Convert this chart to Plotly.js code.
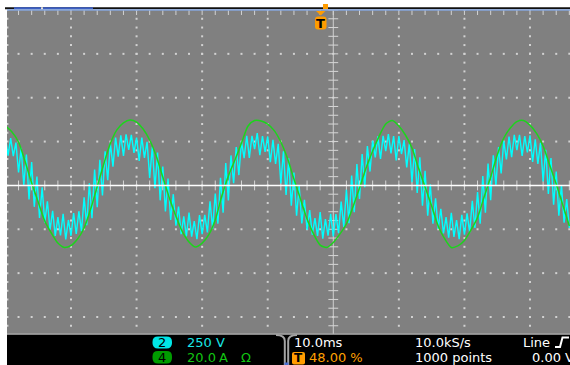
<!DOCTYPE html>
<html><head><meta charset="utf-8">
<script src="https://cdn.plot.ly/plotly-3.0.1.min.js"></script>
<style>html,body{margin:0;padding:0;background:#fff;overflow:hidden}#chart{width:570px;height:365px}</style>
</head><body><div id="chart"></div>
<script>
// ---- scope readout ----
const ch2Label = "250 V";
const ch4Value = "20.0", ch4Unit = "A", ch4Imp = "Ω";
const timebaseLabel = "10.0ms";
const triggerPosLabel = "48.00 %";
const sampleRateLabel = "10.0kS/s";
const recordLabel = "1000 points";
const trigSourceLabel = "Line";
const trigLevelLabel = "0.00 V";

const voltsPerDiv = 250, ampsPerDiv = 20, msPerDiv = 10;
const triggerTime = 48; // ms from left graticule edge

// ---- Ch4 current (A), one reading per ms from left graticule edge ----
const ch4Step = 1.0;
const ch4Amps = [27.1, 24.4, 19.8, 10.9, 1.1, -7.6, -16.2, -21.7, -26.3, -28.3,
 -27.4, -24.4, -19.4, -10.8, -0.5, 9.8, 19.1, 25.3, 28.5, 29.8,
 28.9, 25.7, 20.7, 13.4, 3.8, -5.7, -14.0, -21.2, -25.8, -28.1,
 -26.3, -22.6, -15.8, -4.8, 4.3, 11.6, 19.3, 27.1, 29.6, 29.4,
 28.0, 25.0, 19.8, 12.5, 2.9, -6.2, -15.3, -22.2, -27.2, -28.3,
 -26.0, -22.2, -17.6, -9.8, -1.2, 7.9, 15.7, 22.5, 28.0, 29.6,
 27.1, 23.0, 17.1, 7.9, -0.7, -9.4, -18.5, -24.4, -28.3, -27.6,
 -25.1, -20.3, -14.6, -5.3, 3.8, 13.9, 21.6, 26.2, 29.1, 29.6,
 27.5, 23.7, 18.0, 9.3, 0.6, -8.9, -18.5];

// ---- Ch2 voltage (V), one reading per 0.4 ms ----
const ch2Step = 0.4;
const ch2Volts = [280, 169, 270, 167, 244, 74, 215, 2, 176, -80,
 133, -122, 51, -185, -11, -213, -90, -253, -145, -288,
 -181, -285, -162, -308, -197, -287, -158, -277, -147, -261,
 -68, -227, 12, -187, 90, -124, 146, -57, 194, 30,
 241, 107, 273, 164, 286, 168, 291, 203,
 288, 186, 273, 140, 273, 157, 249, 42, 220, -16,
 187, -85, 108, -149, 39, -197, -50, -230, -121, -278,
 -176, -290, -155, -292, -203, -307, -169, -278, -168, -268,
 -90, -248, -47, -218, 43, -155, 127, -86, 171, 13,
 219, 59, 251, 156, 282, 157, 283, 207, 298,
 172, 281, 191, 279, 132, 260, 123, 237, 11, 195,
 -55, 154, -116, 73, -173, -4, -217, -82, -253, -141,
 -281, -187, -288, -152, -303, -192, -286, -162, -291, -163,
 -272, -92, -236, -25, -215, 56, -153, 122, -77, 179,
 -10, 224, 79, 255, 160, 280, 151, 283, 196, 293,
 183, 281, 143, 281, 179, 258, 103, 238, 18, 208,
 -43, 161, -115, 84, -172, 7, -218, -73, -248, -133,
 -274, -181, -298, -156, -293, -198, -306, -168, -281, -159,
 -268, -88, -243, -38, -218, 53, -156, 125, -84, 172,
 -2, 218, 68, 253, 148, 279, 161, 288, 201, 288,
 168, 281, 188, 286, 134, 263, 123, 243, 23, 203,
 -48, 156, -110, 79, -172, 2, -213, -78, -243];

const ch4Time = ch4Amps.map((_, i) => i * ch4Step);
const ch2Time = ch2Volts.map((_, i) => i * ch2Step);

// ---- screen geometry ----
const W = 570, H = 365, ML = 7, MR = 0, MT = 10, MB = 31;
const PW = W - ML - MR, PH = H - MT - MB;
const divTop = 4, divBot = -3.388;
const xRange = [0.24, 86.1];
const px = x => (x - ML) / PW, py = y => (H - MB - y) / PH;

// graticule dots & ticks
const gx = [], gy = [];
for (let d = 1; d <= 8; d++) { if (d === 5) continue;
  for (let k = -16; k <= 20; k++) { gx.push(d * msPerDiv); gy.push(k * voltsPerDiv / 5); } }
for (let r = -3; r <= 3; r++) { if (r === 0) continue;
  for (let k = 0; k <= 43; k++) { gx.push(k * msPerDiv / 5); gy.push(r * voltsPerDiv); } }
const lx = [], ly = [];
for (let k = -16; k <= 20; k++) { lx.push(0.3); ly.push(k * voltsPerDiv / 5); }
const tx = [], ty = [];
for (let k = 1; k <= 43; k++) { tx.push(k * msPerDiv / 5); ty.push(3.95 * voltsPerDiv); }
const cvx = [], cvy = [];
for (let k = -16; k <= 20; k++) { cvx.push(5 * msPerDiv); cvy.push(k * voltsPerDiv / 5); }
const chx = [], chy = [];
for (let k = 0; k <= 43; k++) { chx.push(k * msPerDiv / 5); chy.push(0); }

const dotColor = '#d2d2d2';
const traces = [
  {x: gx, y: gy, type: 'scatter', mode: 'markers', hoverinfo: 'skip',
   marker: {symbol: 'square', size: 2, color: dotColor, line: {width: 0}}},
  {x: lx, y: ly, type: 'scatter', mode: 'markers', hoverinfo: 'skip',
   marker: {symbol: 'square', size: 2, color: dotColor, line: {width: 0}}},
  {x: tx, y: ty, type: 'scatter', mode: 'markers', hoverinfo: 'skip',
   marker: {symbol: 'line-ns', size: 4, line: {width: 1, color: dotColor}}},
  {x: cvx, y: cvy, type: 'scatter', mode: 'markers', hoverinfo: 'skip',
   marker: {symbol: 'line-ew', size: 7, line: {width: 1, color: '#d6d6d6'}}},
  {x: chx, y: chy, type: 'scatter', mode: 'markers', hoverinfo: 'skip',
   marker: {symbol: 'line-ns', size: 7, line: {width: 1, color: '#d6d6d6'}}},
  {x: ch2Time, y: ch2Volts, type: 'scatter', mode: 'lines', name: 'Ch2',
   line: {color: '#00ffff', width: 1.4}},
  {x: ch4Time, y: ch4Amps, type: 'scatter', mode: 'lines', name: 'Ch4', yaxis: 'y2',
   line: {color: '#1cd41c', width: 1.5, shape: 'spline', smoothing: 0.7}}
];

function pill(x0, y0, x1, y1, r, color) {
  const p = (x, y) => px(x).toFixed(5) + ',' + py(y).toFixed(5);
  const path = `M${p(x0 + r, y0)} L${p(x1 - r, y0)} Q${p(x1, y0)} ${p(x1, y0 + r)} L${p(x1, y1 - r)} Q${p(x1, y1)} ${p(x1 - r, y1)} L${p(x0 + r, y1)} Q${p(x0, y1)} ${p(x0, y1 - r)} L${p(x0, y0 + r)} Q${p(x0, y0)} ${p(x0 + r, y0)} Z`;
  return {type: 'path', xref: 'paper', yref: 'paper', path, fillcolor: color, line: {width: 0}, layer: 'above'};
}
function rect(x0, y0, x1, y1, color) {
  return {type: 'rect', xref: 'paper', yref: 'paper', x0: px(x0), x1: px(x1), y0: py(y0), y1: py(y1),
          fillcolor: color, line: {width: 0}, layer: 'above'};
}
function poly(pts, color, width, fill) {
  const path = pts.map((q, i) => (i ? 'L' : 'M') + px(q[0]).toFixed(5) + ',' + py(q[1]).toFixed(5)).join(' ') + (fill ? ' Z' : '');
  return {type: 'path', xref: 'paper', yref: 'paper', path, layer: 'above',
          fillcolor: fill || 'rgba(0,0,0,0)', line: {width: width, color: color}};
}
function curve(d, color, width) {
  const p = (x, y) => px(x).toFixed(5) + ',' + py(y).toFixed(5);
  return {type: 'path', xref: 'paper', yref: 'paper', layer: 'above', path: d(p),
          line: {width: width, color: color}};
}

const shapes = [
  // centre lines
  {type: 'line', xref: 'x', yref: 'paper', x0: 5 * msPerDiv, x1: 5 * msPerDiv, y0: 0, y1: 1,
   line: {color: '#cfcfcf', width: 1}, layer: 'below'},
  {type: 'line', xref: 'paper', yref: 'y', x0: 0, x1: 1, y0: 0, y1: 0,
   line: {color: '#ffffff', width: 1.5}, layer: 'above'},
  // top record bar
  rect(5, 7.2, 570, 9.3, '#101010'),
  rect(14, 7.2, 41, 9.3, '#3c5fc4'),
  rect(41, 7.2, 43, 9.3, '#e0e0e0'),
  rect(43, 7.2, 93, 9.3, '#3c5fc4'),
  rect(7, 9.3, 570, 10.8, '#86a6dc'),
  rect(323, 4, 328, 9, '#ff9c00'),
  // trigger marker
  poly([[316, 11], [325.5, 11], [320.7, 15.5]], '#ff9c00', 0, '#ff9c00'),
  pill(315, 16.5, 326.5, 29.5, 3, '#ff9c00'),
  // status bar
  rect(7, 334, 570, 365, '#000000'),
  rect(7, 333.5, 570, 334.8, '#b4b4b4'),
  curve(p => `M${p(276, 335)} Q${p(284.8, 335)} ${p(284.8, 341)} L${p(284.8, 365)}`, '#a4a4a4', 2),
  curve(p => `M${p(297, 335)} Q${p(288.2, 335)} ${p(288.2, 341)} L${p(288.2, 365)}`, '#a4a4a4', 2),
  rect(284.5, 362.5, 288.5, 365, '#4a6fd0'),
  pill(152.5, 336.5, 172, 348.5, 5.5, '#00e6e6'),
  pill(152.5, 351, 172, 363.5, 5.5, '#009c00'),
  pill(292, 352, 305, 364.5, 2, '#ff9c00'),
  // rising edge icon
  poly([[555, 347], [560, 347], [562.5, 337.5], [569, 337.5]], '#ffffff', 2)
];

const F = 'DejaVu Sans, sans-serif';
function txt(text, x, y, color, size, anchor, weight) {
  return {text, xref: 'paper', yref: 'paper', x: px(x), y: py(y), xanchor: anchor || 'left', yanchor: 'middle',
          showarrow: false, borderpad: 0,
          font: {family: F, size: size || 13, color, weight: weight || 'normal'}};
}
const annotations = [
  txt('2', 162.3, 342.5, '#000000', 13, 'center'),
  txt('4', 162.3, 357.3, '#000000', 13, 'center'),
  txt(ch2Label, 186, 342.5, '#19e6e6'),
  txt(ch4Value, 186, 357.5, '#12c412'),
  txt(ch4Unit, 218, 357.5, '#12c412'),
  txt(ch4Imp, 240, 357.5, '#12c412'),
  txt(timebaseLabel, 292.5, 342.5, '#ffffff'),
  txt('T', 298.5, 358.3, '#000000', 12, 'center', 'bold'),
  txt(triggerPosLabel, 307.5, 357.5, '#ffa000'),
  txt(sampleRateLabel, 414, 342.5, '#ffffff'),
  txt(recordLabel, 414, 357.5, '#ffffff'),
  txt(trigSourceLabel, 521.5, 342.5, '#ffffff'),
  txt(trigLevelLabel, 531, 357.5, '#ffffff'),
  txt('T', 320.7, 23.3, '#000000', 13, 'center', 'bold')
];

const axisBase = {showgrid: false, zeroline: false, showticklabels: false, ticks: '', showline: false, fixedrange: true};
const layout = {
  width: W, height: H,
  margin: {l: ML, r: MR, t: MT, b: MB, pad: 0},
  paper_bgcolor: '#ffffff', plot_bgcolor: '#808080',
  showlegend: false,
  xaxis: Object.assign({}, axisBase, {range: xRange}),
  yaxis: Object.assign({}, axisBase, {range: [divBot * voltsPerDiv, divTop * voltsPerDiv]}),
  yaxis2: Object.assign({}, axisBase, {range: [divBot * ampsPerDiv, divTop * ampsPerDiv], overlaying: 'y'}),
  shapes, annotations
};
Plotly.newPlot('chart', traces, layout, {staticPlot: true, displayModeBar: false});
</script></body></html>
